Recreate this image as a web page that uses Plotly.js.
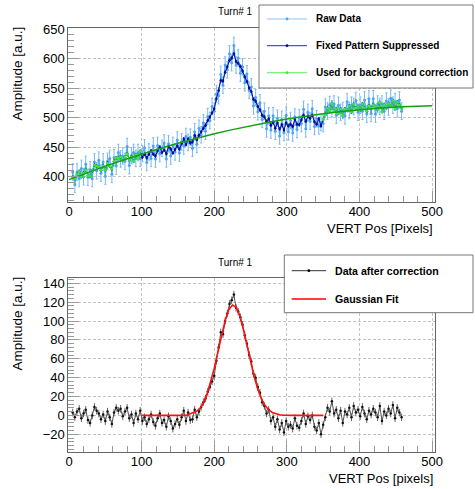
<!DOCTYPE html>
<html><head><meta charset="utf-8">
<script src="https://cdn.plot.ly/plotly-3.0.1.min.js"></script>
<style>html,body{margin:0;padding:0;background:#fff;}#chart{width:475px;height:489px;}</style>
</head><body><div id="chart"></div>
<script>
// ---------- data ----------
const chartTitle = 'Turn# 1';
const vertPos = [5,8,11,14,17,20,23,26,29,32,35,38,41,44,47,50,53,56,59,62,65,68,71,74,77,80,83,86,89,92,95,98,
101,104,107,110,113,116,119,122,125,128,131,134,137,140,143,146,149,152,155,158,161,164,167,170,173,176,179,182,185,188,191,194,197,200,
203,206,209,212,215,218,221,224,227,230,233,236,239,242,245,248,251,254,257,260,263,266,269,272,275,278,281,284,287,290,293,296,299,
302,305,308,311,314,317,320,323,326,329,332,335,338,341,344,347,350,353,356,359,362,365,368,371,374,377,380,383,386,389,392,395,398,
401,404,407,410,413,416,419,422,425,428,431,434,437,440,443,446,449,452,455,458];
const rawData = [408,387,408,397,414,400,421,399,412,397,425,410,428,406,425,401,426,431,404,432,418,441,430,435,426,451,419,436,441,431,441,431,
439,449,424,442,431,452,430,453,439,448,457,430,456,435,453,442,462,440,459,452,468,458,467,448,476,455,482,471,491,477,502,495,519,511,
540,537,573,555,589,581,608,593,622,589,601,575,586,559,574,546,552,520,534,510,525,497,511,481,503,479,503,477,499,469,497,475,504,
476,495,474,501,480,500,490,514,481,509,494,515,485,498,486,492,490,518,511,522,515,523,504,521,509,512,503,527,512,521,519,529,509,
521,511,530,506,532,507,532,506,523,519,523,511,528,518,533,521,527,515,530,511];
const rawError = 14;
const fixedPattern = [400,397,404,409,400,406,412,402,401,410,420,418,416,411,418,412,423,418,413,426,432,431,434,427,433,439,429,434,426,437,432,443,
433,438,432,438,444,438,435,444,450,441,445,439,451,447,440,446,452,447,456,464,454,464,457,459,470,463,470,476,482,487,495,501,508,515,
532,546,563,562,577,586,597,601,608,595,592,587,579,569,561,550,544,531,528,519,513,504,501,494,498,487,492,482,491,481,488,479,491,
486,489,485,497,489,488,496,504,494,502,499,504,493,489,498,486,497,505,516,512,524,511,515,507,515,503,515,512,520,510,523,516,519,
513,523,516,511,520,516,522,519,514,526,510,521,517,524,519,529,515,526,521,516];
const fixedError = 3;
const bgRanges = [[0,100],[350,460]];
const bgFitX = [0,25,50,75,100,125,150,175,200,225,250,275,300,325,350,375,400,425,450,475,500];
const bgFitY = [395,406.7,417.9,428.4,438.4,447.8,456.7,464.9,472.6,479.7,486.3,492.2,497.6,502.4,506.7,510.3,513.4,515.9,517.9,519.2,520];
const corrected = [3,-2,4,7,-3,2,6,-5,-8,0,9,5,2,-4,1,-6,4,-2,-9,3,8,5,7,-1,4,8,-3,1,-8,2,-4,5,
-6,-2,-9,-4,1,-7,-11,-3,2,-8,-5,-12,-1,-6,-14,-9,-4,-10,-2,5,-6,3,-5,-4,6,-2,4,9,14,18,25,30,36,42,
58,72,88,86,100,108,118,122,128,114,110,104,96,85,76,64,57,44,40,30,24,14,10,2,6,-6,-2,-12,-4,-15,-8,-18,-6,
-12,-10,-14,-3,-11,-13,-6,2,-9,-1,-5,0,-12,-16,-8,-20,-10,-2,8,4,15,2,6,-3,5,-8,4,1,8,-2,10,3,6,
-1,9,2,-4,5,1,7,3,-2,10,-6,4,0,7,2,11,-3,8,3,-2];
const correctedError = 4;
const gaussX = [100,105,110,115,120,125,130,135,140,145,150,155,160,165,170,175,180,185,190,195,200,205,210,215,220,225,230,235,240,245,250,255,260,265,270,275,280,285,290,295,300,305,310,315,320,325,330,335,340,345,350];
const gaussY = [0,0,0,0,0,0,0,0,0,0,0,0,0,1.1,2.3,4,7,13,22,35,50,67,85,100.6,111.9,117,114.7,105.8,91.6,74.5,56.9,40.9,27.6,17.5,10.4,5.8,3.1,1.5,0.7,0.3,0,0,0,0,0,0,0,0,0,0,0];
const legendTop = ['Raw Data','Fixed Pattern Suppressed','Used for background correction'];
const legendBottom = ['Data after correction','Gaussian Fit'];
const xTitleTop = 'VERT Pos [Pixels]';
const xTitleBottom = 'VERT Pos [pixels]';
const yTitle = 'Amplitude [a.u.]';

// ---------- styling ----------
const C = {raw:'#4da3f5', rawBar:'#74b8f7', fps:'#0a0a96', bgPts:'#33f033', bgFit:'#12a012', corr:'#111', corrLine:'#555', gauss:'#ff1010'};
const W = 475, H = 489;
const px = v => v / W, py = v => (H - v) / H;

const bgY = vertPos.map((x,i) => bgRanges.some(r => x >= r[0] && x <= r[1]) ? fixedPattern[i] : null);

const traces = [
  {x: vertPos, y: rawData, xaxis:'x', yaxis:'y', mode:'lines+markers', type:'scatter',
   line:{color:C.raw, width:1}, marker:{color:C.raw, size:3},
   error_y:{type:'constant', value:rawError, color:C.rawBar, thickness:1, width:1}},
  {x: vertPos, y: fixedPattern, xaxis:'x', yaxis:'y', mode:'lines+markers', type:'scatter',
   line:{color:C.fps, width:1}, marker:{color:C.fps, size:2.5},
   error_y:{type:'constant', value:fixedError, color:C.fps, thickness:1, width:0}},
  {x: vertPos, y: bgY, xaxis:'x', yaxis:'y', mode:'lines+markers', type:'scatter', connectgaps:false,
   line:{color:C.bgPts, width:1}, marker:{color:C.bgPts, size:3}},
  {x: bgFitX, y: bgFitY, xaxis:'x', yaxis:'y', mode:'lines', type:'scatter',
   line:{color:C.bgFit, width:1.5}},
  {x: vertPos, y: corrected, xaxis:'x2', yaxis:'y2', mode:'lines+markers', type:'scatter',
   line:{color:C.corrLine, width:1}, marker:{color:C.corr, size:2.5},
   error_y:{type:'constant', value:correctedError, color:'#666', thickness:1, width:0}},
  {x: gaussX, y: gaussY, xaxis:'x2', yaxis:'y2', mode:'lines', type:'scatter',
   line:{color:C.gauss, width:1.6}}
];

const axBase = {showline:true, linecolor:'#666', linewidth:1, mirror:true, ticks:'inside', ticklen:11,
  tickcolor:'#999', tickwidth:1, showgrid:true, gridcolor:'#c4c4c4', griddash:'3px,2px', gridwidth:1,
  zeroline:false, tickfont:{size:13, color:'#000'}, automargin:false, fixedrange:true};
const minor = d => ({ticks:'inside', ticklen:6, tickcolor:'#999', dtick:d, showgrid:false});
const xDom = [68.3/W, 435/W];

const shapes = [], annotations = [];
function box(x0,y0,x1,y1){ shapes.push({type:'rect', xref:'paper', yref:'paper', x0:px(x0), x1:px(x1), y0:py(y1), y1:py(y0), line:{color:'#777', width:1}, fillcolor:'#fff', layer:'above'}); }
function entry(yc, x0, x1, color, width, dot, label, tx, size){
  shapes.push({type:'line', xref:'paper', yref:'paper', x0:px(x0), x1:px(x1), y0:py(yc), y1:py(yc), line:{color:color, width:width}, layer:'above'});
  if (dot) { const m=(x0+x1)/2; shapes.push({type:'circle', xref:'paper', yref:'paper', x0:px(m-1.4), x1:px(m+1.4), y0:py(yc+1.4), y1:py(yc-1.4), fillcolor:dot, line:{width:0}, layer:'above'}); }
  annotations.push({xref:'paper', yref:'paper', x:px(tx), y:py(yc), xanchor:'left', yanchor:'middle', showarrow:false, text:'<b>'+label+'</b>', font:{size:size, color:'#000'}});
}
box(259,5,473,88);
entry(19, 267, 307, '#8cc4fa', 1.2, C.raw, legendTop[0], 314, 10);
entry(45.7, 267, 307, '#5555c0', 1.2, C.fps, legendTop[1], 314, 10);
entry(72.7, 267, 307, '#7af57a', 1.2, C.bgPts, legendTop[2], 314, 10);
box(284.3,255,473,312.7);
entry(270.7, 291.7, 326, '#333', 1, '#000', legendBottom[0], 333, 10.6);
entry(299, 291.7, 326, '#ff4040', 2, null, legendBottom[1], 333, 10.6);

annotations.push(
  {xref:'paper', yref:'paper', x:px(235), y:py(12), xanchor:'center', yanchor:'middle', showarrow:false, text:chartTitle, font:{size:10}},
  {xref:'paper', yref:'paper', x:px(235), y:py(262), xanchor:'center', yanchor:'middle', showarrow:false, text:chartTitle, font:{size:10}},
  {xref:'paper', yref:'paper', x:px(435), y:py(228.5), xanchor:'right', yanchor:'middle', showarrow:false, text:xTitleTop, font:{size:13}},
  {xref:'paper', yref:'paper', x:px(435), y:py(478.5), xanchor:'right', yanchor:'middle', showarrow:false, text:xTitleBottom, font:{size:13}},
  {xref:'paper', yref:'paper', x:px(16.5), y:py(25), xanchor:'center', yanchor:'top', textangle:-90, showarrow:false, text:yTitle, font:{size:13.5}},
  {xref:'paper', yref:'paper', x:px(16.5), y:py(275), xanchor:'center', yanchor:'top', textangle:-90, showarrow:false, text:yTitle, font:{size:13.5}}
);

const layout = {
  width:W, height:H, margin:{l:0,r:0,t:0,b:0}, paper_bgcolor:'#fff', plot_bgcolor:'#fff', showlegend:false,
  font:{family:'"Liberation Sans", Arial, Helvetica, sans-serif', size:13, color:'#000'},
  xaxis: Object.assign({}, axBase, {domain:xDom, range:[-1,504], tick0:0, dtick:100, minor:minor(20), anchor:'y', ticklabelstandoff:-3}),
  yaxis: Object.assign({}, axBase, {domain:[py(202.3), py(28.3)], range:[356.7,651.2], tick0:0, dtick:50, minor:minor(10), anchor:'x'}),
  xaxis2: Object.assign({}, axBase, {domain:xDom, range:[-1,504], tick0:0, dtick:100, minor:minor(20), anchor:'y2', ticklabelstandoff:-3}),
  yaxis2: Object.assign({}, axBase, {domain:[py(452.3), py(277.7)], range:[-39.1,145.9], tick0:0, dtick:20, minor:minor(4), anchor:'x2'}),
  shapes: shapes, annotations: annotations
};
Plotly.newPlot('chart', traces, layout, {staticPlot:true, displayModeBar:false});
</script></body></html>
